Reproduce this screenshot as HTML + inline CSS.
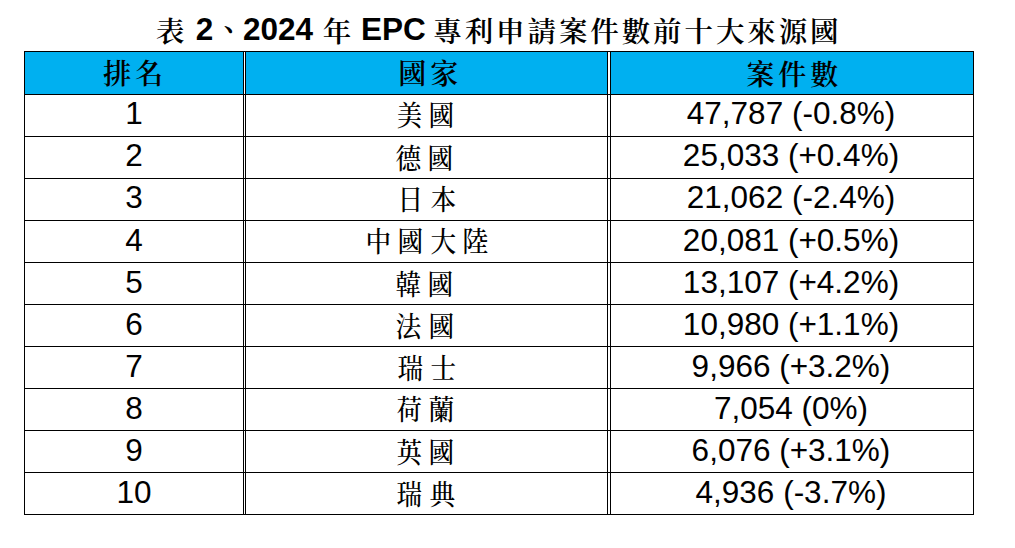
<!DOCTYPE html>
<html lang="zh-Hant"><head><meta charset="utf-8"><title>表 2、2024 年 EPC 專利申請案件數前十大來源國</title>
<style>
html,body{margin:0;padding:0;background:#fff}
body{width:1015px;height:548px;overflow:hidden;position:relative;color:#000}
.h{position:absolute;left:24px;width:950px;height:1px;background:#000}
.v{position:absolute;top:51px;height:464px;width:1px;background:#000}
.bl{position:absolute;top:52px;height:42px;background:#00b0f0}
.t{position:absolute;white-space:nowrap;line-height:40px;height:40px}
.c{text-align:center}
.g{display:inline-block;transform:scaleX(0.9)}
.gt{display:inline-block;transform:scaleX(1)}
.lat{font-family:"Liberation Sans",sans-serif;font-size:31.5px}
.latb{font-family:"Liberation Sans",sans-serif;font-size:31.5px;font-weight:bold}
.cj{font-family:"Liberation Serif","Noto Serif CJK SC",serif;font-size:28.5px;letter-spacing:3.5px;font-weight:500}
.cjh{font-family:"Liberation Serif","Noto Serif CJK SC",serif;font-size:28px;letter-spacing:4px;font-weight:600}
.cjt{font-family:"Liberation Serif","Noto Serif CJK SC",serif;font-size:28.5px;letter-spacing:2.9px;font-weight:600}
</style></head><body>

<div class="bl" style="left:25px;width:218px"></div><div class="bl" style="left:246px;width:361px"></div><div class="bl" style="left:611px;width:362px"></div>
<div class="h" style="top:51px"></div>
<div class="h" style="top:94px"></div>
<div class="h" style="top:136px"></div>
<div class="h" style="top:178px"></div>
<div class="h" style="top:220px"></div>
<div class="h" style="top:262px"></div>
<div class="h" style="top:304px"></div>
<div class="h" style="top:346px"></div>
<div class="h" style="top:388px"></div>
<div class="h" style="top:430px"></div>
<div class="h" style="top:472px"></div>
<div class="h" style="top:514px"></div>
<div class="v" style="left:24px"></div>
<div class="v" style="left:243px"></div>
<div class="v" style="left:245px"></div>
<div class="v" style="left:607px"></div>
<div class="v" style="left:610px"></div>
<div class="v" style="left:973px"></div>
<div id="t1" class="t cjt" style="left:155.90px;top:12.90px">表</div>
<div id="t2" class="t latb" style="left:195.80px;top:8.90px">2</div>
<div id="t3" class="t cjt" style="left:223.60px;top:2.30px">、</div>
<div id="t4" class="t latb" style="left:243.00px;top:8.70px">2024</div>
<div id="t5" class="t cjt" style="left:322.70px;top:12.50px">年</div>
<div id="t6" class="t latb" style="left:361.10px;top:9.10px">EPC</div>
<div id="t7" class="t cjt" style="left:433.30px;top:12.90px">專利申請案件數前十大來源國</div>
<div id="h1" class="t cjh" style="left:103.00px;top:55.00px">排名</div>
<div id="h2" class="t cjh" style="left:398.20px;top:55.40px">國家</div>
<div id="h3" class="t cjh" style="left:746.20px;top:55.70px">案件數</div>
<div id="a0" class="t lat c" style="left:25.00px;top:93.00px;width:218.00px">1</div>
<div id="c0" class="t lat c" style="left:610.00px;top:93.00px;width:362.00px">47,787 (-0.8%)</div>
<div id="b0" class="t cj c" style="left:246.50px;top:97.00px;width:361.00px"><span class="g">美</span><span class="g">國</span></div>
<div id="a1" class="t lat c" style="left:25.00px;top:135.00px;width:218.00px">2</div>
<div id="c1" class="t lat c" style="left:610.00px;top:135.00px;width:362.00px">25,033 (+0.4%)</div>
<div id="b1" class="t cj c" style="left:245.50px;top:140.00px;width:361.00px"><span class="g">德</span><span class="g">國</span></div>
<div id="a2" class="t lat c" style="left:25.00px;top:177.00px;width:218.00px">3</div>
<div id="c2" class="t lat c" style="left:610.00px;top:177.00px;width:362.00px">21,062 (-2.4%)</div>
<div id="b2" class="t cj c" style="left:248.00px;top:181.00px;width:361.00px"><span class="g">日</span><span class="g">本</span></div>
<div id="a3" class="t lat c" style="left:25.00px;top:220.00px;width:218.00px">4</div>
<div id="c3" class="t lat c" style="left:610.00px;top:220.00px;width:362.00px">20,081 (+0.5%)</div>
<div id="b3" class="t cj c" style="left:248.00px;top:223.00px;width:361.00px"><span class="g">中</span><span class="g">國</span><span class="g">大</span><span class="g">陸</span></div>
<div id="a4" class="t lat c" style="left:25.00px;top:262.00px;width:218.00px">5</div>
<div id="c4" class="t lat c" style="left:610.00px;top:262.00px;width:362.00px">13,107 (+4.2%)</div>
<div id="b4" class="t cj c" style="left:245.50px;top:266.00px;width:361.00px"><span class="g">韓</span><span class="g">國</span></div>
<div id="a5" class="t lat c" style="left:25.00px;top:304.00px;width:218.00px">6</div>
<div id="c5" class="t lat c" style="left:610.00px;top:304.00px;width:362.00px">10,980 (+1.1%)</div>
<div id="b5" class="t cj c" style="left:246.00px;top:308.00px;width:361.00px"><span class="g">法</span><span class="g">國</span></div>
<div id="a6" class="t lat c" style="left:25.00px;top:346.00px;width:218.00px">7</div>
<div id="c6" class="t lat c" style="left:610.00px;top:346.00px;width:362.00px">9,966 (+3.2%)</div>
<div id="b6" class="t cj c" style="left:248.00px;top:350.00px;width:361.00px"><span class="g">瑞</span><span class="g">士</span></div>
<div id="a7" class="t lat c" style="left:25.00px;top:388.00px;width:218.00px">8</div>
<div id="c7" class="t lat c" style="left:610.00px;top:388.00px;width:362.00px">7,054 (0%)</div>
<div id="b7" class="t cj c" style="left:246.50px;top:391.00px;width:361.00px"><span class="g">荷</span><span class="g">蘭</span></div>
<div id="a8" class="t lat c" style="left:25.00px;top:430.00px;width:218.00px">9</div>
<div id="c8" class="t lat c" style="left:610.00px;top:430.00px;width:362.00px">6,076 (+3.1%)</div>
<div id="b8" class="t cj c" style="left:246.50px;top:434.00px;width:361.00px"><span class="g">英</span><span class="g">國</span></div>
<div id="a9" class="t lat c" style="left:25.00px;top:472.00px;width:218.00px">10</div>
<div id="c9" class="t lat c" style="left:610.00px;top:472.00px;width:362.00px">4,936 (-3.7%)</div>
<div id="b9" class="t cj c" style="left:247.00px;top:476.00px;width:361.00px"><span class="g">瑞</span><span class="g">典</span></div>
</body></html>
